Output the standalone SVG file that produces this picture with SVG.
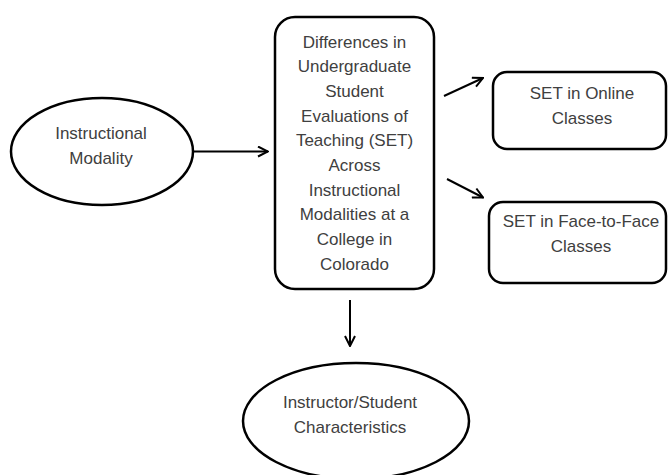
<svg xmlns="http://www.w3.org/2000/svg" width="668" height="475" viewBox="0 0 668 475">
<style>
.shape{fill:#ffffff;stroke:#000000;stroke-width:2.5}
.lbl{font-family:"Liberation Sans",Arial,sans-serif;font-size:17px;fill:#404040;text-anchor:middle}
.conn{stroke:#000000;stroke-width:2;fill:none;marker-end:url(#arr)}
</style>
<defs>
<marker id="arr" viewBox="0 0 12 12" refX="11" refY="6" markerWidth="12" markerHeight="12" markerUnits="userSpaceOnUse" orient="auto">
<path d="M1,1 L11,6 L1,11" fill="none" stroke="#000000" stroke-width="2"/>
</marker>
</defs>
<rect width="668" height="475" fill="#ffffff"/>
<g id="node-modality">
<ellipse class="shape" cx="102" cy="151.5" rx="91" ry="53.5"/>
<text class="lbl" x="101" y="138.5">Instructional</text>
<text class="lbl" x="101" y="163.5">Modality</text>
</g>
<g id="node-main">
<rect class="shape" x="275" y="17" width="159" height="272" rx="20" ry="20"/>
<text class="lbl" x="354.5" y="47.5">Differences in</text>
<text class="lbl" x="354.5" y="72.2">Undergraduate</text>
<text class="lbl" x="354.5" y="96.9">Student</text>
<text class="lbl" x="354.5" y="121.6">Evaluations of</text>
<text class="lbl" x="354.5" y="146.3">Teaching (SET)</text>
<text class="lbl" x="354.5" y="171">Across</text>
<text class="lbl" x="354.5" y="195.7">Instructional</text>
<text class="lbl" x="354.5" y="220.4">Modalities at a</text>
<text class="lbl" x="354.5" y="245.1">College in</text>
<text class="lbl" x="354.5" y="269.8">Colorado</text>
</g>
<g id="node-online">
<rect class="shape" x="493" y="72" width="173" height="77" rx="14" ry="14"/>
<text class="lbl" x="582" y="98.5">SET in Online</text>
<text class="lbl" x="582" y="123.5">Classes</text>
</g>
<g id="node-f2f">
<rect class="shape" x="489" y="202" width="177" height="81" rx="14" ry="14"/>
<text class="lbl" x="581" y="227">SET in Face-to-Face</text>
<text class="lbl" x="581" y="252">Classes</text>
</g>
<g id="node-characteristics">
<ellipse class="shape" cx="356" cy="421" rx="113" ry="58"/>
<text class="lbl" x="350" y="407.5">Instructor/Student</text>
<text class="lbl" x="350" y="432.5">Characteristics</text>
</g>
<g id="connectors">
<line class="conn" x1="194" y1="151.5" x2="268" y2="151.5"/>
<line class="conn" x1="444" y1="96" x2="483" y2="78"/>
<line class="conn" x1="447" y1="179" x2="483" y2="197.5"/>
<line class="conn" x1="350" y1="300" x2="350" y2="346"/>
</g>
</svg>
